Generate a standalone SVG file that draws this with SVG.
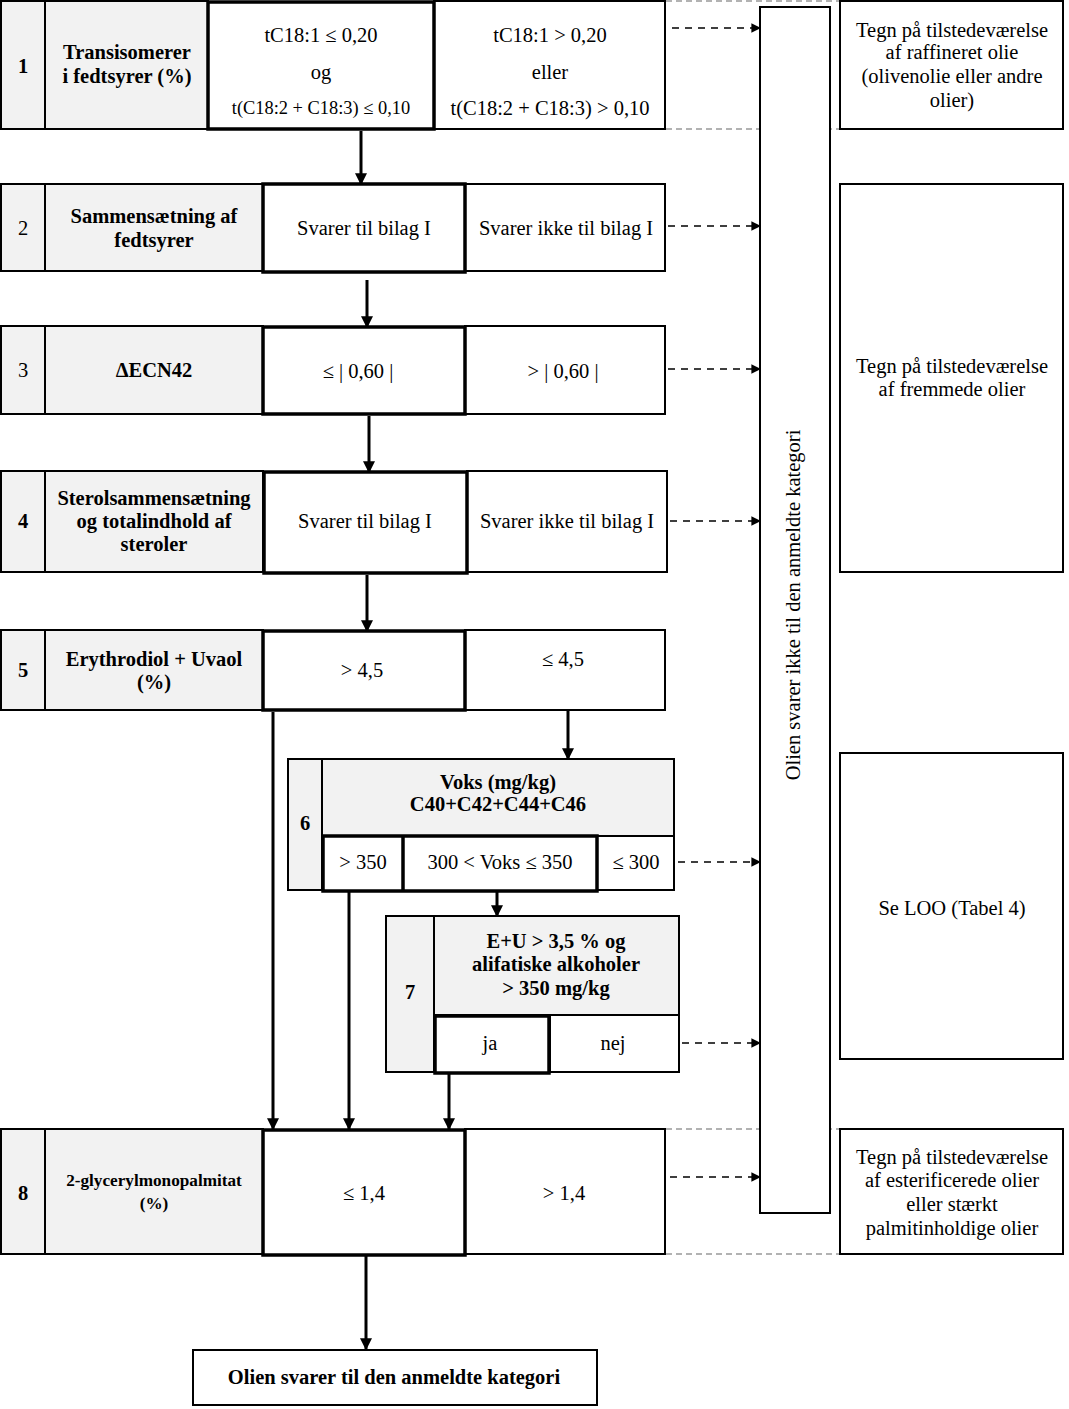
<svg xmlns="http://www.w3.org/2000/svg" width="1069" height="1409" viewBox="0 0 1069 1409">
<defs>
<style>
.c{fill:#fff;stroke:#000;stroke-width:2}
.g{fill:#f2f2f2;stroke:#000;stroke-width:2}
.k{fill:none;stroke:#000;stroke-width:3.5}
.t{font-family:"Liberation Serif","Times New Roman",serif;font-size:20.5px;text-anchor:middle;fill:#000}
.s{font-size:18.4px}
.s2{font-size:17.2px}
.b{font-weight:bold}
.a{stroke:#000;stroke-width:3;fill:none;marker-end:url(#ah)}
.d{stroke:#000;stroke-width:1.6;fill:none;stroke-dasharray:7,6;marker-end:url(#dh)}
.gd{stroke:#999;stroke-width:1.5;fill:none;stroke-dasharray:6,4}
</style>
<marker id="ah" viewBox="0 0 10 10" refX="9" refY="5" markerWidth="4" markerHeight="4" orient="auto" markerUnits="strokeWidth">
<path d="M0,0 L10,5 L0,10 z" fill="#000"/>
</marker>
<marker id="dh" viewBox="0 0 10 10" refX="9" refY="5" markerWidth="7" markerHeight="6" orient="auto" markerUnits="strokeWidth">
<path d="M0,0 L10,5 L0,10 z" fill="#000"/>
</marker>
</defs>
<rect width="1069" height="1409" fill="#fff"/>

<g id="guides">
<line class="gd" x1="666" y1="1" x2="840" y2="1"/>
<line class="gd" x1="666" y1="129" x2="840" y2="129"/>
<line class="gd" x1="666" y1="1129" x2="840" y2="1129"/>
<line class="gd" x1="666" y1="1254" x2="840" y2="1254"/>
</g>

<g id="step1">
<rect class="g" x="1" y="1" width="44" height="128"/>
<rect class="g" x="45" y="1" width="163" height="128"/>
<rect class="c" x="434" y="1" width="231" height="128"/>
<rect class="c" x="208" y="2" width="226" height="127"/>
<rect class="k" x="208" y="2" width="226" height="127"/>
<text class="t b" x="23" y="73">1</text>
<text class="t b" x="127" y="59">Transisomerer</text>
<text class="t b" x="127" y="83">i fedtsyrer (%)</text>
<text class="t" x="321" y="42">tC18:1 ≤ 0,20</text>
<text class="t" x="321" y="79">og</text>
<text class="t s" x="321" y="114">t(C18:2 + C18:3) ≤ 0,10</text>
<text class="t" x="550" y="42">tC18:1 &gt; 0,20</text>
<text class="t" x="550" y="79">eller</text>
<text class="t" x="550" y="115">t(C18:2 + C18:3) &gt; 0,10</text>
</g>

<g id="step2">
<rect class="g" x="1" y="184" width="44" height="87"/>
<rect class="g" x="45" y="184" width="218" height="87"/>
<rect class="c" x="465" y="184" width="200" height="87"/>
<rect class="c" x="263" y="184" width="202" height="88"/>
<rect class="k" x="263" y="184" width="202" height="88"/>
<text class="t" x="23" y="235">2</text>
<text class="t b" x="154" y="223">Sammensætning af</text>
<text class="t b" x="154" y="247">fedtsyrer</text>
<text class="t" x="364" y="235">Svarer til bilag I</text>
<text class="t" x="566" y="235">Svarer ikke til bilag I</text>
</g>

<g id="step3">
<rect class="g" x="1" y="326" width="44" height="88"/>
<rect class="g" x="45" y="326" width="218" height="88"/>
<rect class="c" x="465" y="326" width="200" height="88"/>
<rect class="c" x="263" y="327" width="202" height="87"/>
<rect class="k" x="263" y="327" width="202" height="87"/>
<text class="t" x="23" y="377">3</text>
<text class="t b" x="154" y="377">ΔECN42</text>
<text class="t" x="358" y="378">≤ | 0,60 |</text>
<text class="t" x="563" y="378">&gt; | 0,60 |</text>
</g>

<g id="step4">
<rect class="g" x="1" y="471" width="44" height="101"/>
<rect class="g" x="45" y="471" width="218" height="101"/>
<rect class="c" x="467" y="471" width="200" height="101"/>
<rect class="c" x="264" y="472" width="203" height="101"/>
<rect class="k" x="264" y="472" width="203" height="101"/>
<text class="t b" x="23" y="528">4</text>
<text class="t b" x="154" y="505">Sterolsammensætning</text>
<text class="t b" x="154" y="528">og totalindhold af</text>
<text class="t b" x="154" y="551">steroler</text>
<text class="t" x="365" y="528">Svarer til bilag I</text>
<text class="t" x="567" y="528">Svarer ikke til bilag I</text>
</g>

<g id="step5">
<rect class="g" x="1" y="630" width="44" height="80"/>
<rect class="g" x="45" y="630" width="218" height="80"/>
<rect class="c" x="465" y="630" width="200" height="80"/>
<rect class="c" x="263" y="631" width="202" height="79"/>
<rect class="k" x="263" y="631" width="202" height="79"/>
<text class="t b" x="23" y="677">5</text>
<text class="t b" x="154" y="666">Erythrodiol + Uvaol</text>
<text class="t b" x="154" y="689">(%)</text>
<text class="t" x="362" y="677">&gt; 4,5</text>
<text class="t" x="563" y="666">≤ 4,5</text>
</g>

<g id="step6">
<rect class="g" x="288" y="759" width="34" height="131"/>
<rect class="g" x="322" y="759" width="352" height="77"/>
<rect class="c" x="597" y="836" width="77" height="54"/>
<rect class="c" x="323" y="836" width="274" height="55"/>
<rect class="k" x="323" y="836" width="274" height="55"/>
<line x1="403" y1="836" x2="403" y2="891" stroke="#000" stroke-width="3.5"/>
<text class="t b" x="305" y="830">6</text>
<text class="t b" x="498" y="789">Voks (mg/kg)</text>
<text class="t b" x="498" y="811">C40+C42+C44+C46</text>
<text class="t" x="363" y="869">&gt; 350</text>
<text class="t" x="500" y="869">300 &lt; Voks ≤ 350</text>
<text class="t" x="636" y="869">≤ 300</text>
</g>

<g id="step7">
<rect class="g" x="386" y="916" width="48" height="156"/>
<rect class="g" x="434" y="916" width="245" height="99"/>
<rect class="c" x="550" y="1015" width="129" height="57"/>
<rect class="c" x="435" y="1016" width="114" height="57"/>
<rect class="k" x="435" y="1016" width="114" height="57"/>
<text class="t b" x="410" y="999">7</text>
<text class="t b" x="556" y="948">E+U &gt; 3,5 % og</text>
<text class="t b" x="556" y="971">alifatiske alkoholer</text>
<text class="t b" x="556" y="995">&gt; 350 mg/kg</text>
<text class="t" x="490" y="1050">ja</text>
<text class="t" x="613" y="1050">nej</text>
</g>

<g id="step8">
<rect class="g" x="1" y="1129" width="44" height="125"/>
<rect class="g" x="45" y="1129" width="218" height="125"/>
<rect class="c" x="465" y="1129" width="200" height="125"/>
<rect class="c" x="263" y="1130" width="202" height="125"/>
<rect class="k" x="263" y="1130" width="202" height="125"/>
<text class="t b" x="23" y="1200">8</text>
<text class="t b s2" x="154" y="1186">2-glycerylmonopalmitat</text>
<text class="t b s2" x="154" y="1209">(%)</text>
<text class="t" x="364" y="1200">≤ 1,4</text>
<text class="t" x="564" y="1200">&gt; 1,4</text>
</g>

<g id="result">
<rect class="c" x="193" y="1350" width="404" height="55" stroke-width="3.5"/>
<text class="t b" x="394" y="1384">Olien svarer til den anmeldte kategori</text>
</g>

<g id="reject">
<rect class="c" x="760" y="7" width="70" height="1206"/>
<text class="t" transform="translate(800,605) rotate(-90)">Olien svarer ikke til den anmeldte kategori</text>
</g>

<g id="note1">
<rect class="c" x="840" y="1" width="223" height="128"/>
<text class="t" x="952" y="37">Tegn på tilstedeværelse</text>
<text class="t" x="952" y="59">af raffineret olie</text>
<text class="t" x="952" y="83">(olivenolie eller andre</text>
<text class="t" x="952" y="107">olier)</text>
</g>
<g id="note2">
<rect class="c" x="840" y="184" width="223" height="388"/>
<text class="t" x="952" y="373">Tegn på tilstedeværelse</text>
<text class="t" x="952" y="396">af fremmede olier</text>
</g>
<g id="note3">
<rect class="c" x="840" y="753" width="223" height="306"/>
<text class="t" x="952" y="915">Se LOO (Tabel 4)</text>
</g>
<g id="note4">
<rect class="c" x="840" y="1129" width="223" height="125"/>
<text class="t" x="952" y="1164">Tegn på tilstedeværelse</text>
<text class="t" x="952" y="1187">af esterificerede olier</text>
<text class="t" x="952" y="1211">eller stærkt</text>
<text class="t" x="952" y="1235">palmitinholdige olier</text>
</g>

<g id="connectors">
<line class="a" x1="361" y1="131" x2="361" y2="184"/>
<line class="a" x1="367" y1="280" x2="367" y2="327"/>
<line class="a" x1="369" y1="416" x2="369" y2="472"/>
<line class="a" x1="367" y1="575" x2="367" y2="631"/>
<line class="a" x1="568" y1="710" x2="568" y2="759"/>
<line class="a" x1="273" y1="712" x2="273" y2="1129"/>
<line class="a" x1="349" y1="892" x2="349" y2="1129"/>
<line class="a" x1="497" y1="892" x2="497" y2="916"/>
<line class="a" x1="449" y1="1074" x2="449" y2="1129"/>
<line class="a" x1="366" y1="1256" x2="366" y2="1349"/>
<line class="d" x1="672" y1="28" x2="760" y2="28"/>
<line class="d" x1="668" y1="226" x2="760" y2="226"/>
<line class="d" x1="668" y1="369" x2="760" y2="369"/>
<line class="d" x1="670" y1="521" x2="760" y2="521"/>
<line class="d" x1="678" y1="862" x2="760" y2="862"/>
<line class="d" x1="682" y1="1043" x2="760" y2="1043"/>
<line class="d" x1="670" y1="1177" x2="760" y2="1177"/>
</g>
</svg>
